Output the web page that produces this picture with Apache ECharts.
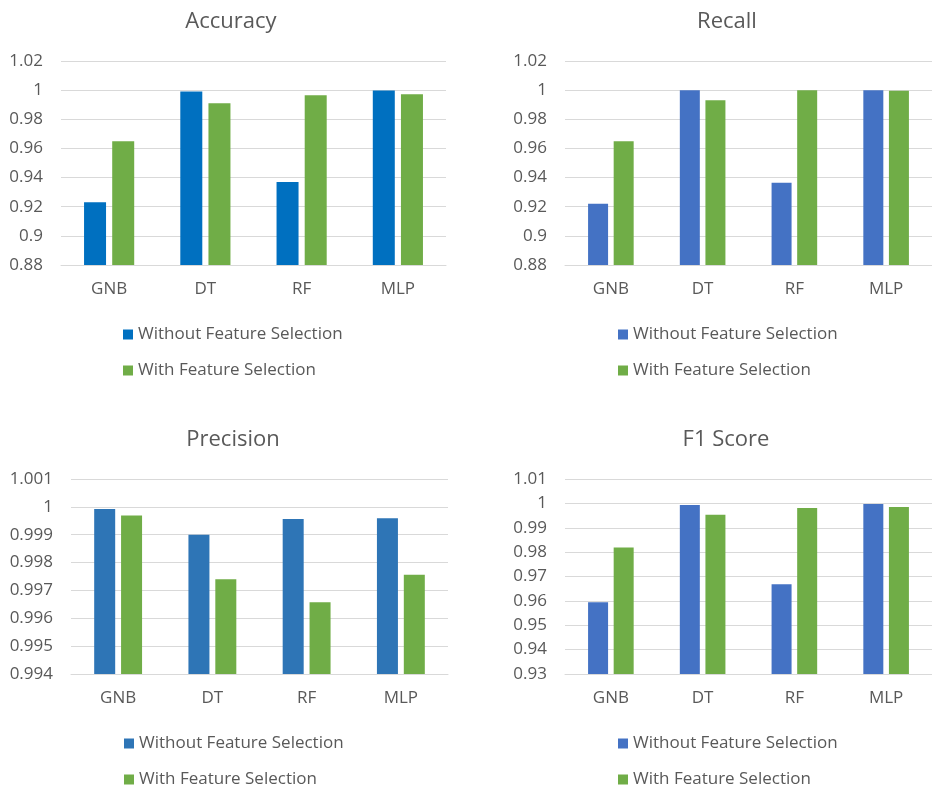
<!DOCTYPE html>
<html>
<head>
<meta charset="utf-8">
<title>Classifier metrics with and without feature selection</title>
<script src="https://cdn.jsdelivr.net/npm/echarts@6/dist/echarts.min.js"></script>
<style>
  html, body { margin: 0; padding: 0; background: #ffffff; }
  #chart { width: 932px; height: 788px; }
</style>
</head>
<body>
<div id="chart"></div>
<script>
// Classifiers on the category axis
const classifiers = ['GNB', 'DT', 'RF', 'MLP'];
const seriesNames = ['Without Feature Selection', 'With Feature Selection'];

// Accuracy
const accuracyWithout = [0.923, 0.999, 0.937, 0.9997];
const accuracyWith = [0.965, 0.991, 0.9965, 0.9972];

// Recall
const recallWithout = [0.922, 1.0, 0.9365, 1.0];
const recallWith = [0.965, 0.993, 1.0, 0.9995];

// Precision
const precisionWithout = [0.99992, 0.999, 0.99956, 0.99959];
const precisionWith = [0.99969, 0.9974, 0.99658, 0.99756];

// F1 score
const f1Without = [0.9594, 0.9993, 0.9668, 0.9997];
const f1With = [0.9819, 0.9953, 0.9981, 0.9985];

// Value-axis ranges per panel
const accuracyAxis = { min: 0.88, max: 1.02, interval: 0.02 };
const recallAxis = { min: 0.88, max: 1.02, interval: 0.02 };
const precisionAxis = { min: 0.994, max: 1.001, interval: 0.001 };
const f1Axis = { min: 0.93, max: 1.01, interval: 0.01 };

const TEXT = '#595959';
const GRID_LINE = '#d9d9d9';
const GREEN = '#70ad47';
const FONT = '"Open Sans", "Noto Sans", sans-serif';

const panels = [
  { title: 'Accuracy', titleX: 231, titleY: 11, blue: '#0070c0', without: accuracyWithout, withFs: accuracyWith,
    axis: accuracyAxis, grid: { left: 61, top: 61, width: 385, height: 204 }, barWidth: 22,
    legend: { left: 123, top: 326 } },
  { title: 'Recall', titleX: 727, titleY: 11, blue: '#4472c4', without: recallWithout, withFs: recallWith,
    axis: recallAxis, grid: { left: 565, top: 61, width: 367, height: 204 }, barWidth: 20,
    legend: { left: 618, top: 326 } },
  { title: 'Precision', titleX: 233, titleY: 429, blue: '#2e75b6', without: precisionWithout, withFs: precisionWith,
    axis: precisionAxis, grid: { left: 71, top: 479, width: 377, height: 195 }, barWidth: 21,
    legend: { left: 124, top: 735 } },
  { title: 'F1 Score', titleX: 726, titleY: 429, blue: '#4472c4', without: f1Without, withFs: f1With,
    axis: f1Axis, grid: { left: 565, top: 479, width: 367, height: 195 }, barWidth: 20,
    legend: { left: 618, top: 735 } }
];

const fmt = v => String(parseFloat(v.toFixed(4)));

const option = {
  backgroundColor: '#ffffff',
  animation: false,
  textStyle: { fontFamily: FONT },
  title: [], legend: [], grid: [], xAxis: [], yAxis: [], series: []
};

panels.forEach((p, i) => {
  option.title.push({
    text: p.title, left: p.titleX, top: p.titleY, textAlign: 'center', padding: 0,
    textStyle: { color: TEXT, fontSize: 22, fontWeight: 'normal', fontFamily: FONT }
  });
  option.grid.push(Object.assign({ containLabel: false }, p.grid));
  option.xAxis.push({
    type: 'category', gridIndex: i, data: classifiers,
    axisLine: { lineStyle: { color: GRID_LINE, width: 1 } },
    axisTick: { show: false },
    axisLabel: { color: TEXT, fontSize: 17, margin: 16, fontFamily: FONT }
  });
  option.yAxis.push({
    type: 'value', gridIndex: i,
    min: p.axis.min, max: p.axis.max, interval: p.axis.interval,
    axisLine: { show: false }, axisTick: { show: false },
    splitLine: { lineStyle: { color: GRID_LINE, width: 1 } },
    axisLabel: { color: TEXT, fontSize: 17, margin: 18, fontFamily: FONT, formatter: fmt }
  });
  option.series.push({
    name: seriesNames[0], type: 'bar', xAxisIndex: i, yAxisIndex: i,
    data: p.without, barWidth: p.barWidth, barGap: '28%',
    itemStyle: { color: p.blue }
  });
  option.series.push({
    name: seriesNames[1], type: 'bar', xAxisIndex: i, yAxisIndex: i,
    data: p.withFs, barWidth: p.barWidth, barGap: '28%',
    itemStyle: { color: GREEN }
  });
  option.legend.push({
    orient: 'vertical', left: p.legend.left, top: p.legend.top, padding: 0,
    itemWidth: 10, itemHeight: 10, itemGap: 19, selectedMode: false,
    icon: 'rect',
    textStyle: { color: TEXT, fontSize: 17, fontFamily: FONT },
    data: [
      { name: seriesNames[0], itemStyle: { color: p.blue } },
      { name: seriesNames[1], itemStyle: { color: GREEN } }
    ]
  });
});

const chart = echarts.init(document.getElementById('chart'), null, { renderer: 'canvas' });
chart.setOption(option);
</script>
</body>
</html>
